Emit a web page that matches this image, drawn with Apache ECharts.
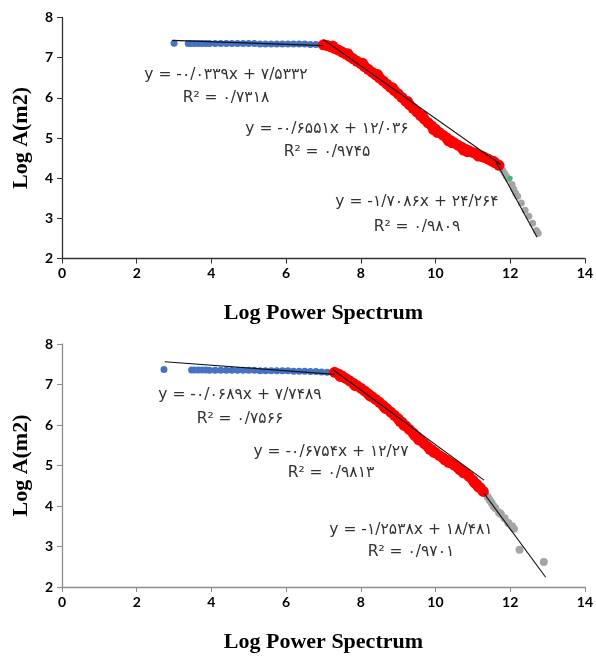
<!DOCTYPE html>
<html><head><meta charset="utf-8">
<script src="https://cdn.jsdelivr.net/npm/echarts@6/dist/echarts.min.js"></script>
<style>html,body{margin:0;padding:0;background:#fff}#c{width:596px;height:657px}</style>
</head><body><div id="c"></div>
<script>
// ---------- DATA ----------
const xTicks = [0, 2, 4, 6, 8, 10, 12, 14];
const yTicks = [2, 3, 4, 5, 6, 7, 8];

const topBlue = [[3.0,7.36],[3.38,7.35],[3.45,7.35],[3.55,7.35],[3.65,7.35],[3.75,7.35],[3.85,7.35],[3.95,7.35],[4.1,7.35],[4.25,7.35],[4.4,7.35],[4.55,7.35],[4.7,7.35],[4.85,7.35],[5.0,7.35],[5.15,7.35],[5.3,7.34],[5.45,7.34],[5.6,7.34],[5.75,7.34],[5.9,7.34],[6.05,7.34],[6.2,7.34],[6.35,7.34],[6.5,7.34],[6.65,7.33],[6.8,7.33],[6.95,7.33]];
const topRed = [[7.0,7.32],[7.1,7.30],[7.2,7.27],[7.3,7.23],[7.4,7.19],[7.5,7.14],[7.6,7.09],[7.7,7.03],[7.8,6.97],[7.9,6.91],[8.0,6.85],[8.1,6.78],[8.2,6.71],[8.3,6.64],[8.4,6.57],[8.5,6.50],[8.6,6.42],[8.7,6.34],[8.8,6.26],[8.9,6.18],[9.0,6.10],[9.1,6.01],[9.2,5.92],[9.3,5.83],[9.4,5.74],[9.5,5.65],[9.6,5.56],[9.7,5.47],[9.8,5.38],[9.9,5.30],[10.0,5.22],[10.1,5.14],[10.2,5.07],[10.3,5.00],[10.4,4.94],[10.5,4.88],[10.6,4.82],[10.7,4.77],[10.8,4.72],[10.9,4.68],[11.0,4.64],[11.1,4.60],[11.2,4.56],[11.3,4.52],[11.4,4.48],[11.5,4.43],[11.6,4.38],[11.7,4.32],
  [7.25,7.29],[7.65,7.10],[8.05,6.86],[8.45,6.58],[8.85,6.25],[9.25,5.91],[9.65,5.55],[10.05,5.14],[10.45,4.88],[10.85,4.66],[11.25,4.54],[11.55,4.42],[9.95,5.21],[10.35,4.93],[10.75,4.70],[11.15,4.55]];
const topGray = [[11.75,4.28],[11.8,4.20],[11.85,4.12],[11.9,4.05],[11.95,3.98],[12.05,3.84],[12.1,3.72],[12.15,3.62],[12.2,3.55],[12.3,3.38],[12.4,3.20],[12.5,3.05],[12.6,2.88],[12.7,2.70],[12.75,2.63]];
const topGreen = [[12.0,4.0]];
const topTrend1 = [[2.95,7.43],[7.0,7.30]];
const topTrend2 = [[7.0,7.45],[11.75,4.34]];
const topTrend3 = [[11.6,4.44],[12.72,2.53]];
const topLabels = [
  ['y = -۰/۰۳۳۹x + ۷/۵۳۳۲', 'R² = ۰/۷۳۱۸'],
  ['y = -۰/۶۵۵۱x + ۱۲/۰۳۶', 'R² = ۰/۹۷۴۵'],
  ['y = -۱/۷۰۸۶x + ۲۴/۲۶۴', 'R² = ۰/۹۸۰۹']
];

const botBlue = [[2.73,7.37],[3.47,7.36],[3.55,7.36],[3.65,7.36],[3.75,7.36],[3.85,7.36],[3.95,7.35],[4.1,7.35],[4.25,7.35],[4.4,7.35],[4.55,7.35],[4.7,7.35],[4.85,7.35],[5.0,7.35],[5.15,7.35],[5.3,7.34],[5.45,7.34],[5.6,7.34],[5.75,7.34],[5.9,7.34],[6.05,7.34],[6.2,7.33],[6.35,7.33],[6.5,7.33],[6.65,7.32],[6.8,7.32],[6.95,7.31],[7.1,7.30],[7.25,7.29]];
const botRed = [[7.3,7.30],[7.4,7.26],[7.5,7.21],[7.6,7.15],[7.7,7.09],[7.8,7.03],[7.9,6.97],[8.0,6.91],[8.1,6.84],[8.2,6.77],[8.3,6.70],[8.4,6.63],[8.5,6.56],[8.6,6.48],[8.7,6.40],[8.8,6.32],[8.9,6.24],[9.0,6.16],[9.1,6.07],[9.2,5.98],[9.3,5.89],[9.4,5.80],[9.5,5.71],[9.6,5.62],[9.7,5.54],[9.8,5.46],[9.9,5.39],[10.0,5.32],[10.1,5.25],[10.2,5.19],[10.3,5.13],[10.4,5.07],[10.5,5.01],[10.6,4.95],[10.7,4.88],[10.8,4.81],[10.9,4.73],[11.0,4.64],[11.1,4.54],[11.2,4.45],[11.28,4.36],
  [7.45,7.20],[7.85,6.97],[8.25,6.72],[8.65,6.42],[9.05,6.09],[9.45,5.74],[9.85,5.40],[10.25,5.14],[10.65,4.90],[11.05,4.57],[9.15,6.00],[9.55,5.64],[9.95,5.33],[10.35,5.08],[10.75,4.82],[11.15,4.47]];
const botGray = [[11.32,4.32],[11.4,4.22],[11.45,4.15],[11.5,4.08],[11.55,4.00],[11.6,3.95],[11.7,3.84],[11.75,3.80],[11.85,3.70],[11.95,3.58],[12.05,3.50],[12.1,3.44],[12.25,2.92],[12.9,2.62]];
const botTrend1 = [[2.75,7.56],[7.3,7.25]];
const botTrend2 = [[7.25,7.37],[11.3,4.64]];
const botTrend3 = [[11.3,4.31],[12.95,2.24]];
const botLabels = [
  ['y = -۰/۰۶۸۹x + ۷/۷۴۸۹', 'R² = ۰/۷۵۶۶'],
  ['y = -۰/۶۷۵۴x + ۱۲/۲۷', 'R² = ۰/۹۸۱۳'],
  ['y = -۱/۲۵۳۸x + ۱۸/۴۸۱', 'R² = ۰/۹۷۰۱']
];

// ---------- STYLE / LAYOUT ----------
const BLUE = '#4472c4', RED = '#ff0000', GRAY = '#a5a5a5', GREEN = '#3cb878';
const tickFont = "Lato, 'Liberation Sans', sans-serif";
const eqFont = "'DejaVu Sans', 'Liberation Sans', sans-serif";
const titleFont = "'Liberation Serif', 'DejaVu Serif', serif";

function xAxisFor(gi, color) {
  return {
    type: 'value', gridIndex: gi, min: 0, max: 14, interval: 2,
    name: 'Log Power Spectrum', nameLocation: 'middle', nameGap: 44,
    nameTextStyle: { fontFamily: titleFont, fontWeight: 'bold', fontSize: 22, color: '#000' },
    axisLine: { show: true, onZero: false, lineStyle: { color: color, width: 1.3 } },
    axisTick: { show: true, inside: false, length: 5, lineStyle: { color: color } },
    axisLabel: { fontFamily: tickFont, fontWeight: 'bold', fontSize: 14, color: '#000', margin: 8,
      formatter: v => xTicks.includes(v) ? String(v) : '' },
    splitLine: { show: false }
  };
}
function yAxisFor(gi, color) {
  return {
    type: 'value', gridIndex: gi, min: 2, max: 8, interval: 1,
    name: 'Log A(m2)', nameLocation: 'middle', nameGap: 30, nameRotate: 90,
    nameTextStyle: { fontFamily: titleFont, fontWeight: 'bold', fontSize: 22, color: '#000' },
    axisLine: { show: true, onZero: false, lineStyle: { color: color, width: 1.3 } },
    axisTick: { show: true, inside: false, length: 5, lineStyle: { color: color } },
    axisLabel: { fontFamily: tickFont, fontWeight: 'bold', fontSize: 14, color: '#000', margin: 9,
      formatter: v => yTicks.includes(v) ? String(v) : '' },
    splitLine: { show: false }
  };
}
function pts(data, color, size, xi, z) {
  return { type: 'scatter', xAxisIndex: xi, yAxisIndex: xi, data: data, symbol: 'circle',
    symbolSize: size, itemStyle: { color: color, opacity: 1 }, z: z, silent: true, animation: false };
}
function trend(data, xi) {
  return { type: 'line', xAxisIndex: xi, yAxisIndex: xi, data: data, showSymbol: false, symbol: 'none',
    lineStyle: { color: '#111', width: 1.1 }, z: 10, silent: true, animation: false };
}
function labels(lbls, pos) {
  const out = [];
  lbls.forEach((pair, i) => {
    const p = pos[i];
    out.push({ type: 'text', x: p[0], y: p[1], style: { text: pair[0], font: '15.5px ' + eqFont, fill: '#333', align: 'center', verticalAlign: 'middle' }, z: 20 });
    out.push({ type: 'text', x: p[0], y: p[2], style: { text: pair[1], font: '15.5px ' + eqFont, fill: '#333', align: 'center', verticalAlign: 'middle' }, z: 20 });
  });
  return out;
}

const chart = echarts.init(document.getElementById('c'), null, { renderer: 'canvas' });
chart.setOption({
  animation: false,
  backgroundColor: '#fff',
  grid: [
    { left: 62, top: 17.5, width: 523, height: 241 },
    { left: 62, top: 344, width: 523, height: 243 }
  ],
  xAxis: [xAxisFor(0, '#333'), xAxisFor(1, '#8c8c8c')],
  yAxis: [yAxisFor(0, '#333'), yAxisFor(1, '#8c8c8c')],
  series: [
    pts(topBlue, BLUE, 7, 0, 2), pts(topRed, RED, 11, 0, 3), pts(topGray, GRAY, 7, 0, 2), pts(topGreen, GREEN, 5, 0, 4),
    trend(topTrend1, 0), trend(topTrend2, 0), trend(topTrend3, 0),
    pts(botBlue, BLUE, 7, 1, 2), pts(botRed, RED, 11, 1, 3), pts(botGray, GRAY, 8, 1, 2),
    trend(botTrend1, 1), trend(botTrend2, 1), trend(botTrend3, 1)
  ],
  graphic: labels(topLabels, [[226, 75, 98], [327, 129, 152], [417, 202, 227]])
    .concat(labels(botLabels, [[240, 395, 419], [331, 452, 473], [411, 530, 552]]))
});
</script></body></html>
